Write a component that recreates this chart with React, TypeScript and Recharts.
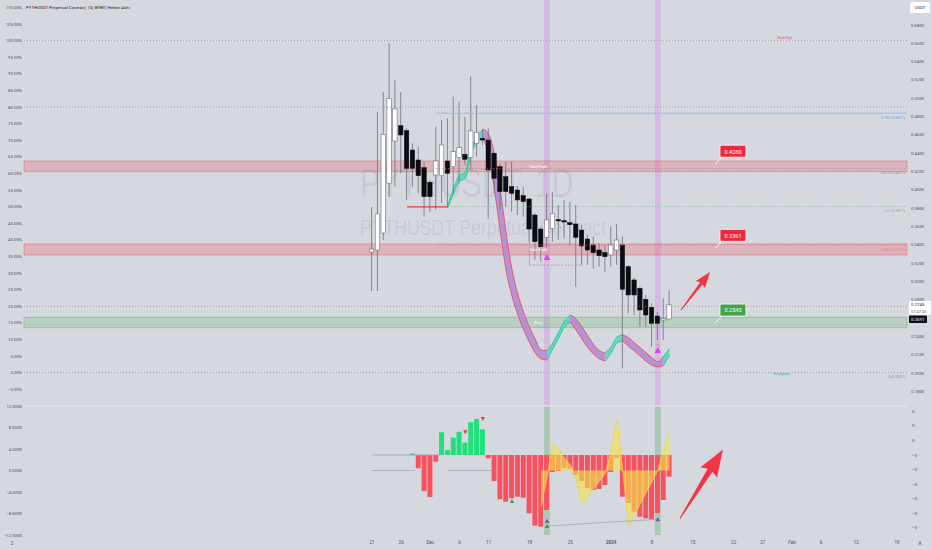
import React from 'react';
import {
  ComposedChart,
  Bar,
  Area,
  XAxis,
  YAxis,
  ReferenceLine,
  ReferenceArea,
  ReferenceDot,
  Cell,
} from 'recharts';

// ---------------- data ----------------
const candleOpen = [0.3321, 0.3343, 0.3529, 0.4071, 0.4533, 0.47, 0.4646, 0.4435, 0.4326, 0.4242, 0.4082, 0.4162, 0.4154, 0.4315, 0.4253, 0.4355, 0.4388, 0.4355, 0.4508, 0.4563, 0.4544, 0.4399, 0.4253, 0.4144, 0.4034, 0.3998, 0.3936, 0.39, 0.3725, 0.3572, 0.3482, 0.358, 0.3676, 0.3663, 0.3641, 0.3627, 0.3561, 0.3463, 0.3398, 0.3343, 0.3314, 0.3289, 0.3343, 0.3398, 0.3161, 0.3016, 0.2925, 0.2805, 0.2717, 0.2622, 0.2579, 0.259];
const candleHigh = [0.3813, 0.4853, 0.5068, 0.56, 0.5199, 0.5065, 0.4672, 0.4508, 0.4471, 0.4307, 0.4107, 0.4689, 0.4763, 0.4781, 0.5017, 0.4962, 0.4799, 0.5235, 0.4926, 0.4653, 0.4672, 0.4416, 0.429, 0.4307, 0.4307, 0.4042, 0.4034, 0.3911, 0.3747, 0.3598, 0.3962, 0.398, 0.3834, 0.3889, 0.3871, 0.3834, 0.3616, 0.3507, 0.3488, 0.3416, 0.3398, 0.3598, 0.3627, 0.3488, 0.3179, 0.3037, 0.2942, 0.2852, 0.2761, 0.2669, 0.2816, 0.2899];
const candleLow = [0.2895, 0.2895, 0.3452, 0.3925, 0.4034, 0.4181, 0.3889, 0.4034, 0.3962, 0.3707, 0.3761, 0.378, 0.3856, 0.3816, 0.3962, 0.4071, 0.4271, 0.4217, 0.4362, 0.449, 0.3682, 0.3962, 0.378, 0.3816, 0.3761, 0.3725, 0.3707, 0.3434, 0.3234, 0.3215, 0.3379, 0.3434, 0.3452, 0.3471, 0.3398, 0.2942, 0.3179, 0.3179, 0.3143, 0.3161, 0.3106, 0.3161, 0.3179, 0.2051, 0.2652, 0.2633, 0.2506, 0.2506, 0.2287, 0.236, 0.236, 0.259];
const candleClose = [0.3354, 0.3736, 0.4606, 0.5, 0.4883, 0.4599, 0.4235, 0.4235, 0.4154, 0.3925, 0.3925, 0.4315, 0.449, 0.4181, 0.4416, 0.446, 0.4334, 0.4643, 0.4628, 0.4544, 0.4217, 0.4126, 0.398, 0.398, 0.3962, 0.3889, 0.3871, 0.3572, 0.3434, 0.3379, 0.3671, 0.3744, 0.366, 0.3649, 0.3619, 0.3482, 0.3387, 0.3343, 0.3314, 0.3281, 0.327, 0.3398, 0.3452, 0.2914, 0.2852, 0.2852, 0.2688, 0.2633, 0.2543, 0.2543, 0.2597, 0.2745];

const ribbonUpper = [null, null, null, null, null, null, null, null, null, null, null, null, null, 0.3833, 0.4018, 0.416, 0.4193, 0.4465, 0.4574, 0.4664, 0.461, 0.4386, 0.3998, 0.3531, 0.313, 0.2863, 0.2662, 0.2501, 0.2365, 0.2252, 0.2245, 0.2327, 0.2447, 0.2567, 0.2633, 0.2591, 0.2503, 0.2405, 0.2312, 0.2243, 0.2219, 0.2284, 0.2393, 0.2415, 0.2385, 0.233, 0.2276, 0.2221, 0.2167, 0.2124, 0.2186, 0.2262];
const ribbonLower = [null, null, null, null, null, null, null, null, null, null, null, null, null, 0.38, 0.3964, 0.4094, 0.4127, 0.44, 0.4509, 0.4577, 0.4375, 0.3998, 0.354, 0.3119, 0.2841, 0.2637, 0.2471, 0.2334, 0.2218, 0.2154, 0.2142, 0.2262, 0.2382, 0.2502, 0.2555, 0.2469, 0.2371, 0.2277, 0.2205, 0.2155, 0.2131, 0.2218, 0.2327, 0.2347, 0.2292, 0.2237, 0.2183, 0.2128, 0.2084, 0.2066, 0.2081, 0.2196];
// trend state of the ribbon: bull = teal, bear = pink
const ribbonSegments = [
  { from: 13, to: 19, bull: true },
  { from: 19, to: 30, bull: false },
  { from: 30, to: 34, bull: true },
  { from: 34, to: 40, bull: false },
  { from: 40, to: 43, bull: true },
  { from: 43, to: 50, bull: false },
  { from: 50, to: 51, bull: true },
];

const histValues = [null, null, null, null, null, null, null, 0.15, -1.33, -3.6, -4.2, -0.67, 2.27, 0.5, 1.73, 2.33, 1.23, 3.27, 3.6, 2.57, -0.33, -2.6, -4.43, -4.67, -4.33, -4.17, -4.27, -5.83, -7.07, -7.17, -5.5, -1.7, -1.6, -1.3, -1.4, -2.0, -2.6, -3.3, -3.5, -3.4, -3.0, -1.7, -0.3, -4.17, -4.8, -5.67, -6.17, -6.33, -6.43, -5.8, -4.5, -2.17];
const oscValues = [null, null, null, null, null, null, null, null, null, null, null, null, null, null, null, null, null, null, null, null, null, null, null, null, null, null, null, null, null, -6.7, -1.3, 5.1, 3.8, 2.3, 1.0, -1.8, -6.2, -4.8, -3.4, -2.0, -0.5, 3.7, 9.6, -0.1, -10.3, -8.3, -6.2, -4.1, -2.1, 0, 3.6, 7.0];

// x-axis dates (day index from 21 Nov 2023)
const tickDays = [0, 5, 10, 15, 20, 27, 34, 41, 48, 55, 62, 67, 72, 77, 83, 90];
const tickLabels = ['21', '26', 'Dec', '6', '11', '18', '25', '2024', '8', '15', '22', '27', 'Feb', '6', '12', '19'];
const pctTicks = [-5, 0, 5, 10, 15, 20, 25, 30, 35, 40, 45, 50, 55, 60, 65, 70, 75, 80, 85, 90, 95, 100, 105, 110];
const priceTicks = [0.18, 0.2, 0.22, 0.24, 0.26, 0.28, 0.3, 0.32, 0.34, 0.36, 0.38, 0.4, 0.42, 0.44, 0.46, 0.48, 0.5, 0.52, 0.54, 0.56, 0.58];
const oscTicks = [-12, -8, -4, 0, 4, 8, 12];
const histTicks = [4.4, 2.95, 1.5, -0.02, -1.47, -2.93, -4.38, -5.82, -7.25];

const pctLevels = [100, 80, 20, 0];
const zones = [
  { from: 0.4198, to: 0.4315, kind: 'tp', label: 'Take Profit' },
  { from: 0.3289, to: 0.3409, kind: 'tp', label: 'Take Profit' },
  { from: 0.2495, to: 0.2608, kind: 'entry', label: 'Entry' },
];
const callouts = [
  { value: 0.428, kind: 'tp' },
  { value: 0.3361, kind: 'tp' },
  { value: 0.2545, kind: 'entry' },
];
const fibLevels = [
  { ratio: '0.786', price: 0.4837, kind: 'blue' },
  { ratio: '0.618', price: 0.4231, kind: 'gray' },
  { ratio: '0.5', price: 0.3817, kind: 'green' },
  { ratio: '0.382', price: 0.3397, kind: 'red' },
  { ratio: '0', price: 0.2001, kind: 'none' },
];
const signalDays = [30, 49];
const buySignals = [
  { day: 30, price: 0.3267 },
  { day: 49, price: 0.2251 },
];
const supportLine = { from: 6, to: 13, price: 0.3815 };
const lowLine = { from: 27, to: 36, price: 0.3178, top: 0.3561 };
const upArrows = [
  { from: [52.97, 0.2688], to: [57.95, 0.3103] },
];
const oscArrow = { from: [52.8, -8.93], to: [60.17, 3.9] };
const oscBullDiv = [
  { day: 30, value: -9.34 },
  { day: 49, value: -9.08 },
];
const oscBuyDots = [
  { day: 30, value: -10.33 },
  { day: 24, value: -5.67 },
];
const oscSellDots = [
  { day: 16, value: 7.1 },
  { day: 19, value: 9.58 },
];
const divergence = { from: [30, -10.33], to: [49, -9.08] };
const histZeroSpan = { from: 0, to: 11.7 };
const oscZeroSpans = [
  { from: 0, to: 7.3 },
  { from: 12.9, to: 20.5 },
];
const lastTradePrice = 0.2691;
const countdown = '07:47:45';

const LAST = candleClose.length - 1;
const X_DOMAIN: [number, number] = [-59.66, 91.72];
const PRICE_DOMAIN: [number, number] = [0.16506, 0.6073];
const PCT_DOMAIN: [number, number] = [-9.73, 112.26];
const OSC_DOMAIN: [number, number] = [-12, 12];
const HIST_DOMAIN: [number, number] = [-8.0, 4.9];

const data = candleOpen.map((o, i) => ({
  day: i,
  open: o,
  high: candleHigh[i],
  low: candleLow[i],
  close: candleClose[i],
  ribHi: ribbonUpper[i],
  ribLo: ribbonLower[i],
  hist: histValues[i],
  osc: oscValues[i],
}));

// ---------------- styles ----------------
const BG = '#d5d8df';
const RED = '#f23645';
const GREEN = '#4caf50';
const AXIS_TEXT = '#4f525c';
const FONT = "Roboto, 'Liberation Sans', Arial, sans-serif";
const tickStyle = { fontSize: 4.3, fill: AXIS_TEXT };
const fibColors: Record<string, string> = { blue: '#8fb9f2', gray: '#8d909a', green: '#77c088', red: '#e27b84', none: '#8d909a' };

const minusFix = (s: string) => s.replace('-', '\u2212');
const fmtPct = (v: number) => minusFix(`${v.toFixed(2)}%`);
const fmtPrice = (v: number) => v.toFixed(4);
const fmtOsc = (v: number) => minusFix(v.toFixed(4));
const fmtHist = (v: number) => (v > 0 ? '0' : '\u22120');

// ---------------- shapes ----------------
const CandleShape = (props: any) => {
  const { x, y, width, height, payload } = props;
  if (!payload || height == null || isNaN(y)) return null;
  const { open, close, high, low } = payload;
  const span = high - low || 1e-9;
  const toY = (v: number) => y + ((high - v) / span) * height;
  const cx = x + width / 2;
  const yO = toY(open);
  const yC = toY(close);
  const top = Math.min(yO, yC);
  const bh = Math.max(Math.abs(yC - yO), 1);
  const bull = close >= open;
  const bw = 4.4;
  return (
    <g>
      <line x1={cx} x2={cx} y1={y} y2={y + height} stroke="#6e717b" strokeWidth={0.8} />
      <rect
        x={cx - bw / 2}
        y={top}
        width={bw}
        height={bh}
        fill={bull ? '#ffffff' : '#0a0c11'}
        stroke={bull ? '#5d606b' : '#0a0c11'}
        strokeWidth={0.5}
      />
    </g>
  );
};

const ArrowShape = (p: any) => {
  const { x1, y1, x2, y2 } = p;
  if ([x1, y1, x2, y2].some((v) => v == null || isNaN(v))) return null;
  const dx = x2 - x1;
  const dy = y2 - y1;
  const len = Math.hypot(dx, dy) || 1;
  const ux = dx / len;
  const uy = dy / len;
  const nx = -uy;
  const ny = ux;
  const head = len * 0.3;
  const hw = len * 0.12;
  const sw = len * 0.035;
  const tw = 0.5;
  const bx = x2 - ux * head;
  const by = y2 - uy * head;
  const pts = [
    [x1 + nx * tw, y1 + ny * tw],
    [bx + nx * sw, by + ny * sw],
    [bx + nx * hw - ux * len * 0.03, by + ny * hw - uy * len * 0.03],
    [x2, y2],
    [bx - nx * hw - ux * len * 0.03, by - ny * hw - uy * len * 0.03],
    [bx - nx * sw, by - ny * sw],
    [x1 - nx * tw, y1 - ny * tw],
  ];
  return <polygon points={pts.map((q) => q.join(',')).join(' ')} fill={RED} />;
};

const triangle = (color: string, size: number, up: boolean) => (p: any) => {
  const { cx, cy } = p;
  if (cx == null || cy == null) return null;
  const h = size;
  const w = size * 0.55;
  const pts = up
    ? `${cx},${cy - h / 2} ${cx + w},${cy + h / 2} ${cx - w},${cy + h / 2}`
    : `${cx},${cy + h / 2} ${cx + w},${cy - h / 2} ${cx - w},${cy - h / 2}`;
  return <polygon points={pts} fill={color} />;
};

const dotShape = (color: string, r: number) => (p: any) =>
  p.cx == null ? null : <circle cx={p.cx} cy={p.cy} r={r} fill={color} />;

const textShape = (text: string, color: string, size: number, anchor: string, dx = 0, dy = 0, weight = 400) => (p: any) =>
  p.cx == null ? null : (
    <text x={p.cx + dx} y={p.cy + dy} fill={color} fontSize={size} textAnchor={anchor as any} dominantBaseline="central" fontWeight={weight} fontFamily={FONT}>
      {text}
    </text>
  );

const calloutShape = (label: string, color: string) => (p: any) => {
  const { cx, cy } = p;
  if (cx == null) return null;
  const bx = cx + 5;
  const by = cy - 19;
  return (
    <g>
      <line x1={cx} y1={cy} x2={cx + 7} y2={cy - 7} stroke="#ffffff" strokeWidth={0.9} />
      <rect x={bx} y={by} width={26} height={12} rx={1.5} fill={color} stroke="#ffffff" strokeWidth={0.8} />
      <text x={bx + 13} y={by + 6.3} fill="#ffffff" fontSize={5.6} textAnchor="middle" dominantBaseline="central" fontFamily={FONT}>
        {label}
      </text>
    </g>
  );
};

const priceBadgeShape = (label: string, sub: string, trade: string) => (p: any) => {
  const { cx, cy } = p;
  if (cx == null) return null;
  const x = cx + 2;
  return (
    <g>
      <rect x={x} y={cy - 4} width={22} height={14} rx={1} fill="#ffffff" />
      <text x={x + 2} y={cy} fontSize={4.4} fill="#131722" dominantBaseline="central" fontFamily={FONT}>{label}</text>
      <text x={x + 2} y={cy + 7} fontSize={4.0} fill="#6a6d78" dominantBaseline="central" fontFamily={FONT}>{sub}</text>
      <rect x={x} y={cy + 10.7} width={18} height={7.6} rx={1} fill="#0c0e14" />
      <text x={x + 2} y={cy + 14.5} fontSize={4.4} fill="#ffffff" dominantBaseline="central" fontFamily={FONT}>{trade}</text>
    </g>
  );
};

const DateTick = (p: any) => {
  const i = tickDays.indexOf(p.payload.value);
  const label = tickLabels[i] ?? '';
  return (
    <text x={p.x} y={p.y + 9.2} textAnchor="middle" fontSize={4.6} fill={AXIS_TEXT} fontWeight={label === '2024' ? 700 : 400} fontFamily={FONT}>
      {label}
    </text>
  );
};

// ---------------- charts ----------------
function MainChart() {
  return (
    <ComposedChart width={932} height={405} data={data} margin={{ top: 0, right: 0, bottom: 0, left: 0 }}>
      <XAxis dataKey="day" type="number" domain={X_DOMAIN} allowDataOverflow hide />
      <YAxis
        yAxisId="pct"
        orientation="left"
        width={24}
        type="number"
        domain={PCT_DOMAIN}
        allowDataOverflow
        ticks={pctTicks}
        interval={0}
        tickLine={false}
        axisLine={false}
        tickSize={0}
        tickMargin={2}
        tick={tickStyle}
        tickFormatter={fmtPct}
      />
      <YAxis
        yAxisId="price"
        orientation="right"
        width={25}
        type="number"
        domain={PRICE_DOMAIN}
        allowDataOverflow
        ticks={priceTicks}
        interval={0}
        tickLine={false}
        axisLine={false}
        tickSize={0}
        tickMargin={4}
        tick={tickStyle}
        tickFormatter={fmtPrice}
      />

      {signalDays.map((d) => (
        <ReferenceArea key={`sig${d}`} yAxisId="price" x1={d - 0.5} x2={d + 0.5} fill="#d79ce6" fillOpacity={0.5} stroke="none" ifOverflow="visible" />
      ))}

      {zones.map((z, i) => (
        <ReferenceArea
          key={`z${i}`}
          yAxisId="price"
          y1={z.from}
          y2={z.to}
          fill={z.kind === 'tp' ? RED : GREEN}
          fillOpacity={0.22}
          stroke={z.kind === 'tp' ? RED : GREEN}
          strokeOpacity={0.4}
          strokeWidth={0.9}
          ifOverflow="visible"
        />
      ))}

      {pctLevels.map((v) => (
        <ReferenceLine key={`pl${v}`} yAxisId="pct" y={v} stroke="#8e919b" strokeDasharray="1 2" strokeWidth={0.8} ifOverflow="visible" />
      ))}

      {fibLevels
        .filter((f) => f.kind !== 'none')
        .map((f) => (
          <ReferenceLine
            key={`fl${f.ratio}`}
            yAxisId="price"
            segment={[
              { x: 11, y: f.price },
              { x: X_DOMAIN[1], y: f.price },
            ]}
            stroke={fibColors[f.kind]}
            strokeWidth={0.9}
            strokeDasharray={f.kind === 'blue' ? undefined : '1 2'}
            ifOverflow="visible"
          />
        ))}

      <ReferenceLine
        yAxisId="price"
        segment={[
          { x: supportLine.from, y: supportLine.price },
          { x: supportLine.to, y: supportLine.price },
        ]}
        stroke={RED}
        strokeWidth={1.3}
        ifOverflow="visible"
      />
      <ReferenceLine
        yAxisId="price"
        segment={[
          { x: lowLine.from, y: lowLine.price },
          { x: lowLine.to, y: lowLine.price },
        ]}
        stroke="#ea7a84"
        strokeWidth={0.8}
        strokeDasharray="2 1.5"
        ifOverflow="visible"
      />
      <ReferenceLine
        yAxisId="price"
        segment={[
          { x: lowLine.from, y: lowLine.top },
          { x: lowLine.from, y: lowLine.price },
        ]}
        stroke="#9a9da6"
        strokeWidth={0.7}
        ifOverflow="visible"
      />

      {ribbonSegments.map((s, i) => (
        <Area
          key={`rib${i}`}
          yAxisId="price"
          type="monotone"
          dataKey={(r: any) => (r.day >= s.from && r.day <= s.to && r.ribHi != null ? [r.ribLo, r.ribHi] : null)}
          stroke={s.bull ? '#1ccf95' : '#ef4f5e'}
          strokeWidth={0.9}
          fill={s.bull ? '#62d4c0' : '#b48cd6'}
          fillOpacity={0.92}
          connectNulls={false}
          dot={false}
          activeDot={false}
          isAnimationActive={false}
        />
      ))}

      <Bar
        yAxisId="price"
        dataKey={(r: any) => [r.low, r.high]}
        barSize={5}
        shape={CandleShape}
        isAnimationActive={false}
      />

      {buySignals.map((s) => (
        <ReferenceDot key={`bs${s.day}`} yAxisId="price" x={s.day} y={s.price} ifOverflow="visible" shape={triangle('#e53ee8', 6, true)} />
      ))}
      <ReferenceDot yAxisId="price" x={49} y={0.2306} ifOverflow="visible" shape={dotShape('#f5a623', 1.2)} />

      {zones.map((z, i) => (
        <ReferenceDot
          key={`zl${i}`}
          yAxisId="price"
          x={28.5}
          y={(z.from + z.to) / 2}
          ifOverflow="visible"
          shape={textShape(z.label, '#ffffff', 3.8, 'middle')}
        />
      ))}

      {fibLevels.map((f) => (
        <ReferenceDot
          key={`ft${f.ratio}`}
          yAxisId="price"
          x={X_DOMAIN[1]}
          y={f.price}
          ifOverflow="visible"
          shape={textShape(`${f.ratio} (${f.price.toFixed(4)})`, f.kind === 'blue' ? '#6ea3ee' : fibColors[f.kind], 3.7, 'end', -2, 4.5)}
        />
      ))}

      <ReferenceDot yAxisId="price" x={70.8} y={0.5658} ifOverflow="visible" shape={textShape('Weak High', '#e0525e', 3.2, 'middle')} />
      <ReferenceDot yAxisId="price" x={70.2} y={0.1989} ifOverflow="visible" shape={textShape('Strong Low', '#26a69a', 3.2, 'middle')} />

      {callouts.map((c) => (
        <ReferenceDot
          key={`co${c.value}`}
          yAxisId="price"
          x={58.8}
          y={c.value}
          ifOverflow="visible"
          shape={calloutShape(c.value.toFixed(4), c.kind === 'tp' ? '#f0283c' : '#43a548')}
        />
      ))}

      {upArrows.map((a, i) => (
        <ReferenceLine
          key={`ar${i}`}
          yAxisId="price"
          segment={[
            { x: a.from[0], y: a.from[1] },
            { x: a.to[0], y: a.to[1] },
          ]}
          ifOverflow="visible"
          shape={ArrowShape}
        />
      ))}

      <ReferenceDot
        yAxisId="price"
        x={X_DOMAIN[1]}
        y={candleClose[LAST]}
        ifOverflow="visible"
        shape={priceBadgeShape(candleClose[LAST].toFixed(4), countdown, lastTradePrice.toFixed(4))}
      />
    </ComposedChart>
  );
}

function OscChart() {
  return (
    <ComposedChart width={932} height={152} data={data} margin={{ top: 8, right: 0, bottom: 0, left: 0 }}>
      <XAxis
        dataKey="day"
        type="number"
        domain={X_DOMAIN}
        allowDataOverflow
        ticks={tickDays}
        interval={0}
        height={15}
        tickLine={false}
        axisLine={false}
        tickSize={0}
        tickMargin={0}
        tick={(p: any) => <DateTick {...p} />}
      />
      <YAxis
        yAxisId="osc"
        orientation="left"
        width={24}
        type="number"
        domain={OSC_DOMAIN}
        allowDataOverflow
        ticks={oscTicks}
        interval={0}
        tickLine={false}
        axisLine={false}
        tickSize={0}
        tickMargin={2}
        tick={tickStyle}
        tickFormatter={fmtOsc}
      />
      <YAxis
        yAxisId="h"
        orientation="right"
        width={25}
        type="number"
        domain={HIST_DOMAIN}
        allowDataOverflow
        ticks={histTicks}
        interval={0}
        tickLine={false}
        axisLine={false}
        tickSize={0}
        tickMargin={5}
        tick={tickStyle}
        tickFormatter={fmtHist}
      />

      <ReferenceLine yAxisId="osc" y={12} stroke="#e6e8ed" strokeWidth={1} ifOverflow="visible" />

      {signalDays.map((d) => (
        <ReferenceArea key={`osig${d}`} yAxisId="osc" x1={d - 0.5} x2={d + 0.5} fill="#84bd8f" fillOpacity={0.55} stroke="none" ifOverflow="visible" />
      ))}

      <ReferenceLine
        yAxisId="h"
        segment={[
          { x: histZeroSpan.from, y: 0 },
          { x: histZeroSpan.to, y: 0 },
        ]}
        stroke="#a2a5ae"
        strokeWidth={0.8}
        ifOverflow="visible"
      />
      {oscZeroSpans.map((s, i) => (
        <ReferenceLine
          key={`oz${i}`}
          yAxisId="osc"
          segment={[
            { x: s.from, y: 0 },
            { x: s.to, y: 0 },
          ]}
          stroke="#a2a5ae"
          strokeWidth={0.8}
          ifOverflow="visible"
        />
      ))}

      <Bar yAxisId="h" dataKey="hist" barSize={5} isAnimationActive={false}>
        {data.map((r, i) => (
          <Cell key={i} fill={r.hist != null && r.hist >= 0 ? '#1fe07a' : '#f7525f'} />
        ))}
      </Bar>

      <Area
        yAxisId="osc"
        type="linear"
        dataKey="osc"
        baseValue={0}
        stroke="#eed63a"
        strokeWidth={0.8}
        fill="#f6e24c"
        fillOpacity={0.62}
        connectNulls={false}
        dot={false}
        activeDot={false}
        isAnimationActive={false}
        {...({ zIndex: 350 } as any)}
      />

      <ReferenceLine
        yAxisId="osc"
        segment={[
          { x: divergence.from[0], y: divergence.from[1] },
          { x: divergence.to[0], y: divergence.to[1] },
        ]}
        stroke="#9ea2aa"
        strokeWidth={0.7}
        ifOverflow="visible"
      />
      {oscBullDiv.map((m) => (
        <ReferenceDot key={`bd${m.day}`} yAxisId="osc" x={m.day} y={m.value} ifOverflow="visible" shape={triangle('#7b3fc9', 4, true)} />
      ))}
      {oscBuyDots.map((m) => (
        <ReferenceDot key={`bb${m.day}`} yAxisId="osc" x={m.day} y={m.value} ifOverflow="visible" shape={triangle('#2e9e4f', 4, true)} />
      ))}
      {oscSellDots.map((m) => (
        <ReferenceDot key={`ss${m.day}`} yAxisId="osc" x={m.day} y={m.value} ifOverflow="visible" shape={triangle('#f23645', 4, false)} />
      ))}

      <ReferenceLine
        yAxisId="osc"
        segment={[
          { x: oscArrow.from[0], y: oscArrow.from[1] },
          { x: oscArrow.to[0], y: oscArrow.to[1] },
        ]}
        ifOverflow="visible"
        shape={ArrowShape}
      />
    </ComposedChart>
  );
}

export default function App() {
  return (
    <div style={{ position: 'absolute', left: 0, top: 0, width: 932, height: 550, background: BG, fontFamily: FONT, overflow: 'hidden' }}>
      <svg width={932} height={550} style={{ position: 'absolute', left: 0, top: 0 }}>
        <text x={360} y={197} fontSize={40} fill="#7d818e" fillOpacity={0.16} transform="translate(360 0) scale(0.75 1) translate(-360 0)" fontFamily="'Liberation Sans', Arial, sans-serif">
          PYTHUSDT, 1D
        </text>
        <text x={360} y={235} fontSize={22} fill="#7d818e" fillOpacity={0.16} transform="translate(360 0) scale(0.8 1) translate(-360 0)" fontFamily="'Liberation Sans', Arial, sans-serif">
          PYTHUSDT Perpetual Contract
        </text>
      </svg>
      <div style={{ position: 'absolute', left: 0, top: 0 }}>
        <MainChart />
      </div>
      <div style={{ position: 'absolute', left: 0, top: 398 }}>
        <OscChart />
      </div>
      <svg width={932} height={550} style={{ position: 'absolute', left: 0, top: 0, pointerEvents: 'none' }}>
        <text x={26} y={7.4} fontSize={4.4} fill="#1b1e27" dominantBaseline="central" fontFamily={FONT}>
          PYTHUSDT Perpetual Contract, 1D, BYBIT, Heikin Ashi
        </text>
        <rect x={910} y={2} width={20} height={11} rx={1.5} fill="#ffffff" />
        <text x={920} y={7.6} fontSize={4.2} fill="#131722" textAnchor="middle" dominantBaseline="central" fontFamily={FONT}>
          USDT
        </text>
        <text x={12} y={543} fontSize={4.6} fill={AXIS_TEXT} textAnchor="middle" dominantBaseline="central" fontFamily={FONT}>
          2
        </text>
        <text x={920} y={543} fontSize={4.6} fill={AXIS_TEXT} textAnchor="middle" dominantBaseline="central" fontFamily={FONT}>
          A
        </text>
      </svg>
    </div>
  );
}
